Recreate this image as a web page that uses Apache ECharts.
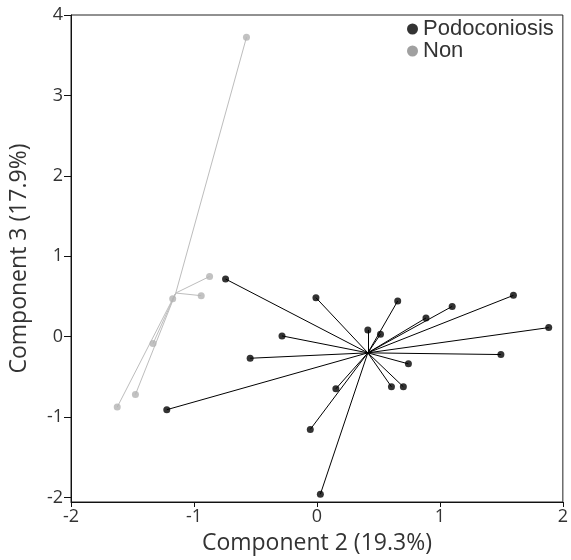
<!DOCTYPE html>
<html lang="en">
<head>
    <meta charset="utf-8">
    <meta name="viewport" content="width=device-width, initial-scale=1"/>
    <style>
        html, body { margin: 0; padding: 0; background: #fff; }
        #chart { width: 571px; height: 560px; }
    </style>
</head>
<body>
<div id="chart"></div>
<script type="text/javascript" src="https://cdn.jsdelivr.net/npm/echarts@6/dist/echarts.min.js"></script>
<script type="text/javascript">

// component 2 / component 3 scores
var podoX = [-0.743, -0.284, -0.543, -1.221, -0.008, 0.414, 0.517, 0.657, 0.887, 1.100,
             1.598, 1.885, 1.496, 0.744, 0.606, 0.703, 0.154, -0.054, 0.028];
var podoY = [0.716, 0.009, -0.269, -0.909, 0.484, 0.083, 0.029, 0.443, 0.232, 0.376,
             0.513, 0.112, -0.223, -0.339, -0.624, -0.624, -0.649, -1.154, -1.960];
var nonX = [-0.573, -0.873, -0.941, -1.173, -1.333, -1.476, -1.624];
var nonY = [3.722, 0.748, 0.509, 0.471, -0.087, -0.720, -0.877];

// group centroids (spiders are drawn from here)
var podoCenter = [0.414, -0.202];
var nonCenter = [-1.148, 0.542];

var yTicks = [-2, -1, 0, 1, 2, 3, 4];

function toPoints(xs, ys) {
    return xs.map(function (x, i) { return [x, ys[i]]; });
}
function toSpokes(center, xs, ys) {
    return xs.map(function (x, i) { return { coords: [center, [x, ys[i]]] }; });
}

var podoColor = '#000000';
var nonColor = '#b3b3b3';
var axisFont = 'Open Sans';

var option = {
    backgroundColor: '#fff',
    animation: false,
    grid: {
        left: 71, right: 7, top: 15, bottom: 57,
        show: true, borderColor: '#222', borderWidth: 1, backgroundColor: 'transparent'
    },
    legend: {
        orient: 'vertical',
        left: 402, top: 13,
        itemWidth: 11, itemHeight: 11, itemGap: 0,
        icon: 'circle',
        itemStyle: { borderWidth: 0 },
        textStyle: { fontFamily: 'Liberation Sans', fontSize: 22, color: '#333', lineHeight: 18, padding: [0, 0, 0, 0] },
        data: [
            { name: 'Podoconiosis', itemStyle: { color: '#333', borderWidth: 0 } },
            { name: 'Non', itemStyle: { color: '#a0a0a0', borderWidth: 0 } }
        ]
    },
    xAxis: {
        type: 'value', min: -2, max: 2, interval: 1,
        name: 'Component 2 (19.3%)', nameLocation: 'middle', nameGap: 30,
        nameTextStyle: { fontFamily: axisFont, fontSize: 23, color: '#333' },
        axisLine: { onZero: false, lineStyle: { color: '#111', width: 1 } },
        axisTick: { length: 5, lineStyle: { color: '#111' } },
        axisLabel: { fontFamily: axisFont, fontSize: 18, color: '#333', margin: 6 },
        splitLine: { show: false }
    },
    yAxis: {
        type: 'value', min: -2.057, max: 4,
        name: 'Component 3 (17.9%)', nameLocation: 'middle', nameGap: 40,
        nameTextStyle: { fontFamily: axisFont, fontSize: 23, color: '#333' },
        axisLine: { show: true, onZero: false, lineStyle: { color: '#111', width: 1 } },
        axisTick: { show: true, length: 7, customValues: yTicks, lineStyle: { color: '#111' } },
        axisLabel: { fontFamily: axisFont, fontSize: 18, color: '#333', margin: 8, customValues: yTicks },
        splitLine: { show: false }
    },
    series: [
        {
            type: 'lines', coordinateSystem: 'cartesian2d', name: 'Podoconiosis',
            silent: true, z: 1,
            lineStyle: { color: podoColor, width: 1, opacity: 1 },
            data: toSpokes(podoCenter, podoX, podoY)
        },
        {
            type: 'lines', coordinateSystem: 'cartesian2d', name: 'Non',
            silent: true, z: 1,
            lineStyle: { color: '#bdbdbd', width: 1, opacity: 1 },
            data: toSpokes(nonCenter, nonX, nonY)
        },
        {
            type: 'scatter', name: 'Podoconiosis', symbolSize: 7, z: 3,
            itemStyle: { color: podoColor },
            data: toPoints(podoX, podoY)
        },
        {
            type: 'scatter', name: 'Non', symbolSize: 7, z: 3,
            itemStyle: { color: nonColor },
            data: toPoints(nonX, nonY)
        }
    ]
};

var myChart = echarts.init(document.getElementById('chart'));
myChart.setOption(option);

</script>
</body>
</html>
